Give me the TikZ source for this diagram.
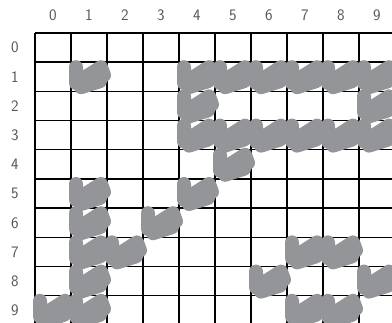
\documentclass[tikz,border=0pt]{standalone}
\usetikzlibrary{calc}
\definecolor{scribblegray}{HTML}{939598}
\definecolor{labelgray}{HTML}{555555}

\tikzset{
  gridline/.style={line width=1.4pt, black},
  scribble/.style={line width=14pt, scribblegray, line cap=round, line join=round},
  idx/.style={font=\sffamily\fontsize{16}{16}\selectfont, text=labelgray}
}

\begin{document}
\begin{tikzpicture}[x=1pt, y=-1pt]
  \useasboundingbox (0,0) rectangle (392,323);

  % grid
  \foreach \i in {0,...,10}
    \draw[gridline] (35+36*\i,33) -- (35+36*\i,325);
  \foreach \j in {0,...,10}
    \draw[gridline] (35,33+29.2*\j) -- (395,33+29.2*\j);

  % indices
  \foreach \k in {0,...,9} {
    \node[idx] (col\k) at (53+36*\k,15) {\k};
    \node[idx] (row\k) at (15,47.6+29.2*\k) {\k};
  }

  % filled cells
  \foreach \c/\r in {1/1,4/1,5/1,6/1,7/1,8/1,9/1,
                     4/2,9/2,
                     4/3,5/3,6/3,7/3,8/3,9/3,
                     5/4,
                     1/5,4/5,
                     1/6,3/6,
                     1/7,2/7,7/7,8/7,
                     1/8,6/8,9/8,
                     0/9,1/9,7/9,8/9}
    \draw[scribble, shift={(35+36*\c,33+29.2*\r)}]
      (5,5) -- (5,21) -- (30,5) -- (33,13) -- (10,25) -- (29,19);
\end{tikzpicture}
\end{document}
